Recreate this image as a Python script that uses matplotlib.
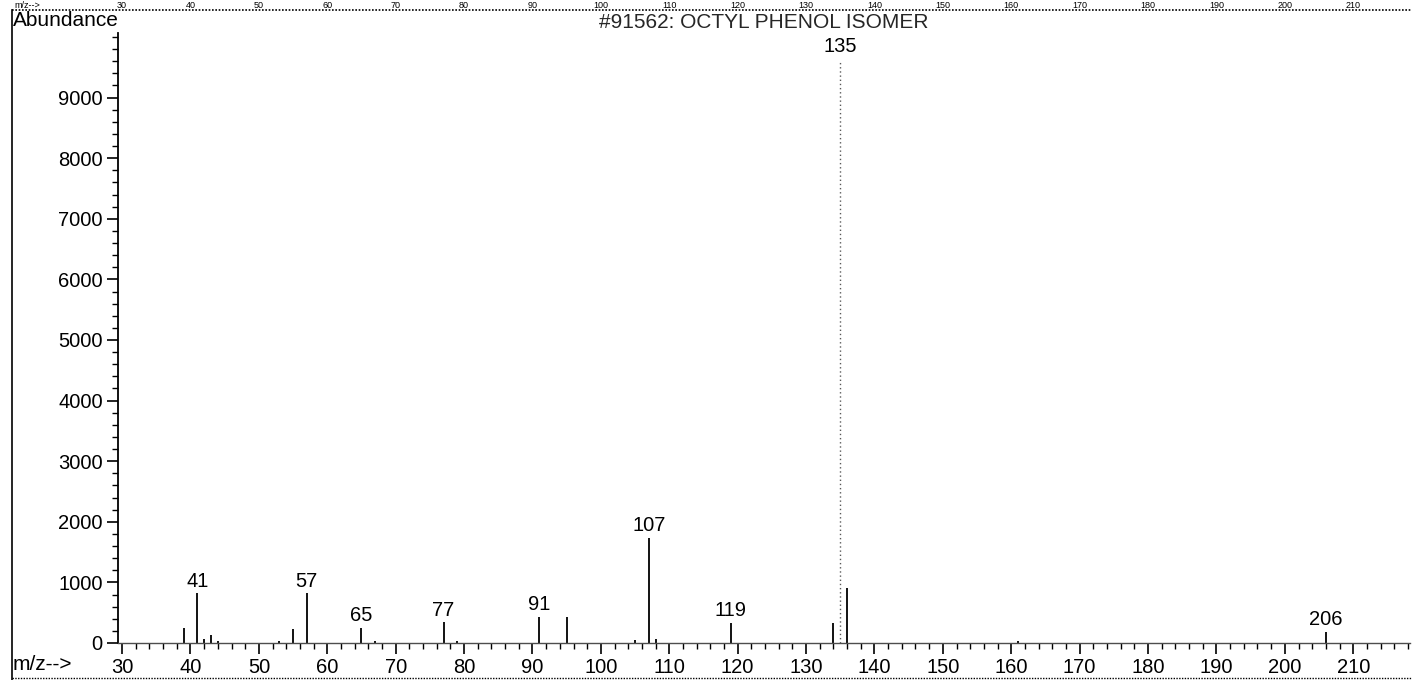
import matplotlib
matplotlib.use("Agg")
import matplotlib.pyplot as plt
from matplotlib.lines import Line2D
from matplotlib.ticker import MultipleLocator
from matplotlib.transforms import blended_transform_factory

plt.rcParams["font.family"] = ["Liberation Sans", "DejaVu Sans"]

# spectrum
mz = [39, 41, 42, 43, 44, 53, 55, 57, 65, 67, 77, 79, 91, 95, 105, 107, 108, 119, 134, 136, 161, 206]
abundance = [250, 820, 60, 130, 40, 40, 230, 820, 250, 40, 340, 40, 430, 430, 50, 1730, 60, 330, 330, 900, 30, 180]
base_mz = 135
base_abundance = 9590

labelled_mz = [41, 57, 65, 77, 91, 107, 119, 206]
title = "#91562: OCTYL PHENOL ISOMER"
x_ticks = list(range(30, 220, 10))
y_ticks = list(range(0, 10000, 1000))

W, H = 1412, 680
fig = plt.figure(figsize=(W / 100, H / 100), dpi=100)
ax = fig.add_axes([118 / W, 37 / H, 1292 / W, 610 / H])

ax.vlines(mz, 0, abundance, color="black", lw=1.3)
ax.vlines([base_mz], 0, [base_abundance], color="0.35", lw=1.0, linestyles=(0, (1, 2)))

ax.set_xlim(29.4, 218.3)
ax.set_ylim(0, 10066)
ax.set_xticks(x_ticks)
ax.set_yticks(y_ticks)
ax.xaxis.set_minor_locator(MultipleLocator(2))
ax.yaxis.set_minor_locator(MultipleLocator(200))
ax.tick_params(axis="both", which="major", labelsize=14.5, length=8, width=1.2, direction="out", pad=3)
ax.tick_params(axis="both", which="minor", length=4, width=1.0, direction="out")
ax.spines["top"].set_visible(False)
ax.spines["right"].set_visible(False)
ax.spines["left"].set_linewidth(1.3)
ax.spines["bottom"].set_linewidth(1.0)
ax.spines["bottom"].set_color("0.3")

for m, a in zip(mz, abundance):
    if m in labelled_mz:
        ax.annotate(str(m), (m, a), xytext=(0, 2), textcoords="offset points",
                    ha="center", va="bottom", fontsize=14.5)
ax.annotate(str(base_mz), (base_mz, base_abundance), xytext=(0, 4),
            textcoords="offset points", ha="center", va="bottom", fontsize=14.5)

ax.text(0.5, 1 - 23 / H, title, transform=blended_transform_factory(ax.transAxes, fig.transFigure),
        ha="center", va="center", fontsize=15, color="0.15")
fig.text(13 / W, 1 - 21 / H, "Abundance", ha="left", va="center", fontsize=15)
fig.text(13 / W, 1 - 665 / H, "m/z-->", ha="left", va="center", fontsize=15)

# axis of the previous panel, squeezed into the strip at the top of the scan
top = blended_transform_factory(ax.transData, fig.transFigure)
for t in x_ticks:
    ax.text(t, 1 - 8 / H, str(t), transform=top, ha="center", va="baseline",
            fontsize=6.5, clip_on=False)
fig.text(14 / W, 1 - 8 / H, "m/z-->", ha="left", va="baseline", fontsize=6.5)

# scan frame
fig.add_artist(Line2D([12 / W, 1], [1 - 10 / H] * 2, color="black", lw=1.2, ls=(0, (1, 1))))
fig.add_artist(Line2D([12 / W, 1], [2 / H] * 2, color="black", lw=1.0, ls=(0, (1, 1))))
fig.add_artist(Line2D([12 / W, 12 / W], [0, 1 - 10 / H], color="black", lw=1.2))

fig.savefig("out.png", dpi=100)
